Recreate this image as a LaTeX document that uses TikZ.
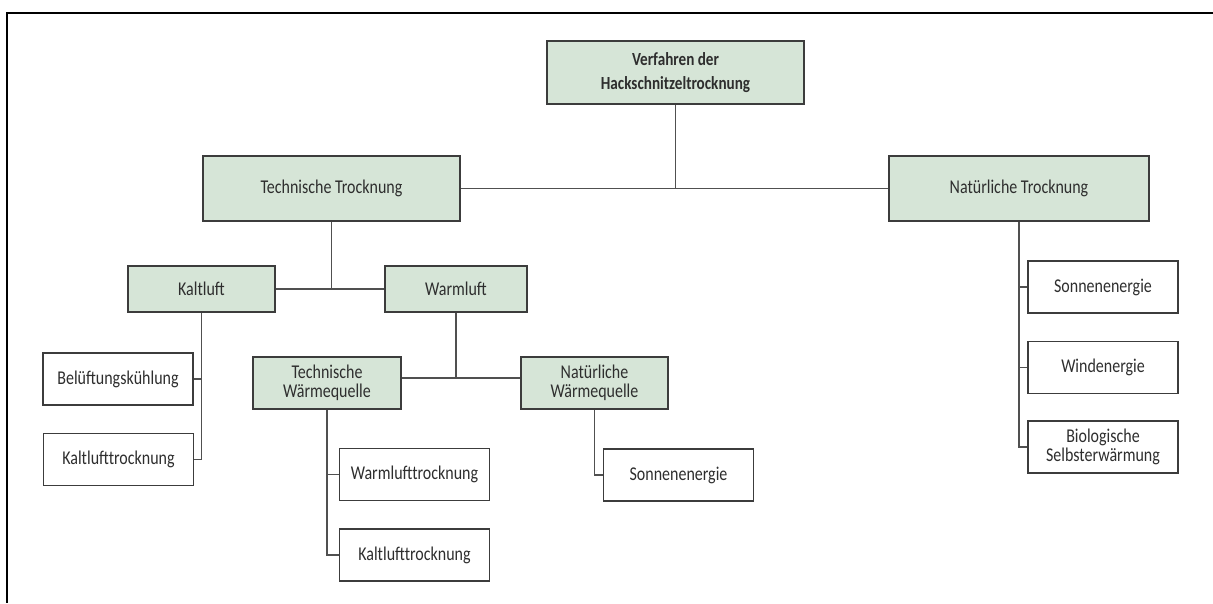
\documentclass[tikz,border=0pt]{standalone}
\usepackage{fontspec}
\setmainfont{Carlito}[FakeStretch=0.82]
\definecolor{boxgreen}{RGB}{214,229,215}
\definecolor{edgegray}{RGB}{60,60,60}
\definecolor{wiregray}{RGB}{80,80,80}

\begin{document}
\begin{tikzpicture}[x=1pt,y=-1pt,
  grp/.style={draw=edgegray,line width=1.3pt,fill=boxgreen,align=center,inner sep=0pt,
    text=black!82,font=\fontsize{19.5}{19}\selectfont},
  leaf/.style={grp,fill=white,minimum width=150pt,minimum height=52pt},
  wire/.style={draw=wiregray,line width=1.3pt}]
\useasboundingbox (0,0) rectangle (1213,603);
\draw[line width=2.5pt] (1213,13) -- (7,13) -- (7,603);
% obere Ebenen
\node[grp,minimum width=257pt,minimum height=63pt,font=\bfseries\fontsize{18.5}{24}\selectfont] (root) at (675.5,72.5) {Verfahren der\\Hackschnitzeltrocknung};
\node[grp,minimum width=257pt,minimum height=65pt] (tech) at (331.5,188.5) {Technische Trocknung};
\node[grp,minimum width=260pt,minimum height=65pt] (nat) at (1019,188.5) {Natürliche Trocknung};
\node[grp,minimum width=147pt,minimum height=46pt] (kalt) at (201.5,289) {Kaltluft};
\node[grp,minimum width=142pt,minimum height=46pt] (warm) at (456,289) {Warmluft};
\node[grp,minimum width=148pt,minimum height=52pt] (techwq) at (327,383) {Technische\\Wärmequelle};
\node[grp,minimum width=147pt,minimum height=52pt] (natwq) at (594.5,383) {Natürliche\\Wärmequelle};
% Blätter
\node[leaf] (beluft) at (118,379) {Belüftungskühlung};
\node[leaf] (kalttr) at (118.5,459.5) {Kaltlufttrocknung};
\node[leaf] (warmtr) at (414.5,474.5) {Warmlufttrocknung};
\node[leaf] (kalttrb) at (414.5,555) {Kaltlufttrocknung};
\node[leaf] (sonnea) at (678.5,475) {Sonnenenergie};
\node[leaf] (sonneb) at (1103,287) {Sonnenenergie};
\node[leaf] (wind) at (1103,367.5) {Windenergie};
\node[leaf] (bio) at (1103,447) {Biologische\\Selbsterwärmung};
% Verbindungen
\coordinate (twq) at ([yshift=5pt]techwq.east);
\coordinate (nwq) at ([yshift=5pt]natwq.west);
\draw[wire] (root) -- (root |- tech);
\draw[wire] (tech) -- (nat);
\draw[wire] (tech) -- (tech |- kalt);
\draw[wire] (kalt) -- (warm);
\draw[wire] (kalt) |- (kalttr); \draw[wire] (kalt.south |- beluft) -- (beluft);
\draw[wire] (warm) -- (warm |- twq);
\draw[wire] (twq) -- (nwq);
\draw[wire] (techwq) |- (kalttrb); \draw[wire] (techwq.south |- warmtr) -- (warmtr);
\draw[wire] (natwq) |- (sonnea);
\draw[wire] (nat) |- (bio);
\draw[wire] (nat.south |- sonneb) -- (sonneb); \draw[wire] (nat.south |- wind) -- (wind);
\end{tikzpicture}
\end{document}
